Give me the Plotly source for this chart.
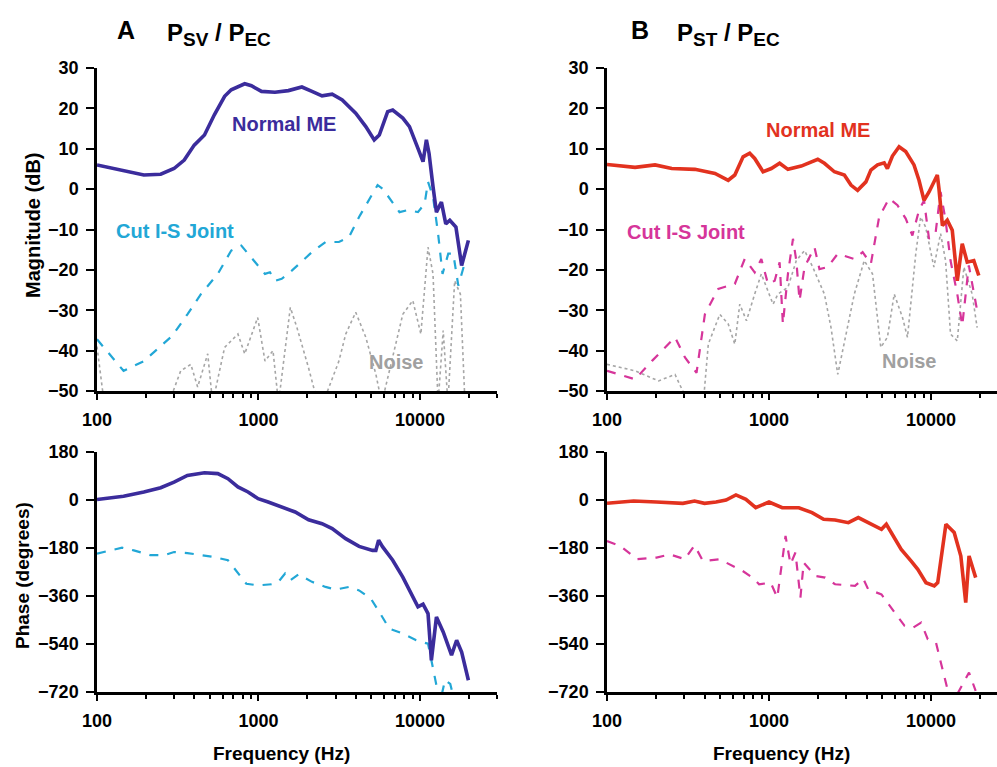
import plotly.graph_objects as go
import math

# ---------------- DATA ----------------
# Panel A magnitude (P_SV / P_EC), dB
A_mag_normal_f = [100,195,248,300,347,400,463,533,617,678,822,904,1044,1265,1532,1857,2144,2475,2860,3302,4000,4620,5210,5600,6310,6780,7830,8610,9720,10450,10960,11380,12050,12650,13580,14450,15310,16700,18120,19950]
A_mag_normal = [6.0,3.5,3.7,5.1,7.2,10.9,13.4,18.4,23.0,24.6,26.1,25.6,24.2,24.0,24.4,25.3,24.2,23.1,23.5,22.1,18.8,15.5,12.2,13.4,19.2,19.6,17.6,15.5,10.1,6.8,12.2,8.9,0.6,-5.7,-3.2,-8.6,-7.7,-9.4,-18.9,-12.7]

A_mag_cut_f = [100,146,195,293,363,440,560,678,783,904,1097,1178,1265,1393,1608,2144,2600,3148,3634,4197,4843,5466,5875,6622,7470,8414,9720,10690,11220,12050,12950,13800,14970,16080,17280,19010]
A_mag_cut = [-37.2,-45,-42.6,-36.3,-31,-26,-21,-15.2,-14,-16.9,-21,-20.6,-22.7,-22.2,-20.2,-15.6,-13.1,-13.1,-11.9,-6.9,-2.8,1,0.1,-2.8,-5.7,-5.2,-5.7,-3.6,1.8,-1.9,-11,-21,-16,-16,-23.9,-18.1]

A_mag_noise_f = [100,110,150,250,330,381,420,485,520,617,746,822,989,1097,1230,1330,1575,1730,2040,2400,3148,3470,4000,4620,5330,5800,7830,9030,10130,11220,12050,12950,13930,14900,16400,17800,19000]
A_mag_noise = [-39,-52,-58,-58,-45,-43.4,-49,-40.8,-53,-39.2,-35.9,-40.8,-31.8,-42.6,-40,-53,-29.3,-34.3,-44.2,-55,-42.6,-35.9,-30.5,-36.7,-45.8,-53,-31,-27.6,-35.9,-14.4,-21,-53,-35,-53,-22.7,-26,-53]

# Panel B magnitude (P_ST / P_EC), dB
B_mag_normal_f = [100,149,198,251,349,464,560,615,692,760,816,919,1033,1163,1309,1581,2000,2198,2533,2918,3206,3524,3963,4254,4677,5141,5380,5780,6354,6982,7853,8432,9055,9723,10940,11200,11760,12600,13530,14530,15590,16730,18370,19720]
B_mag_normal = [6.1,5.4,6.0,5.1,4.9,3.9,2.2,3.5,8.0,8.9,7.6,4.3,5.1,6.4,4.9,5.7,7.4,6.4,4.3,3.5,1.0,-0.3,1.8,4.7,6.0,6.5,5.1,8.2,10.5,9.3,6.0,2.2,-2.8,-0.7,3.5,0.1,-9.0,-7.7,-10.2,-22.7,-13.5,-18.1,-17.7,-21.4]

B_mag_cut_f = [100,149,189,263,303,357,402,486,615,708,816,897,986,1084,1163,1218,1309,1406,1474,1544,1657,1909,2048,2305,2657,3362,3784,4254,4786,5516,6210,6982,7678,8432,9055,9723,10690,11460,12300,13200,14530,15590,17120,19270]
B_mag_cut = [-45,-47.1,-42.6,-36.7,-41.7,-45.5,-31,-24.7,-23.5,-17.3,-20.6,-17.3,-23.5,-22.7,-18.1,-33.4,-21,-12.3,-17.7,-27.6,-19.3,-14.4,-19.8,-19.3,-16,-17.3,-15.6,-18.5,-6.9,-2.3,-4,-7.3,-11.5,-5.2,-2.8,-12.3,-10.6,-0.7,-7.7,-17.7,-26,-33.8,-18.9,-30.1]

B_mag_noise_f = [100,149,208,263,318,393,422,497,560,615,660,726,816,897,1059,1136,1309,1474,1657,1862,2198,2415,2657,2918,3362,3873,4355,4898,5380,5929,6668,7157,8054,8630,9265,10420,11460,12300,13200,14530,15960,17950,19270]
B_mag_noise = [-43.4,-45,-47.5,-45.9,-53,-53,-38.4,-31,-33.4,-38.4,-28.5,-32.6,-26,-21,-28.5,-26,-24.3,-17.7,-15.2,-19.3,-26,-34.3,-45.9,-37.6,-26,-17.7,-21,-39.2,-36.7,-26,-31.8,-36.7,-16,-6.9,-9.4,-19.3,-11,-17.7,-35.9,-37.6,-19.3,-26,-34.3]

# Panel A phase, degrees
A_ph_normal_f = [100,146,195,248,300,363,463,560,647,746,862,995,1148,1393,1687,2043,2475,2860,3467,4197,5082,5330,5545,5875,6780,7830,8830,9720,10450,11220,11770,12650,13930,15690,16870,18120,19950]
A_ph_normal = [2,14,30,46,67,92,102,99,80,49,30,5,-7.5,-26,-45,-74,-89,-107,-145,-174,-189,-189,-151,-176,-226,-289,-351,-401,-391,-426,-601,-439,-495,-582,-526,-570,-676]

A_ph_cut_f = [100,143,169,214,260,300,363,440,533,647,746,841,995,1205,1327,1461,1575,1770,2144,2600,2999,3634,4197,4966,5600,6457,7830,9480,11220,12050,12650,13300,14300,15400,16500]
A_ph_cut = [-201,-179,-189,-207,-207,-195,-199,-207,-214,-226,-276,-314,-320,-316,-307,-276,-301,-279,-307,-326,-336,-326,-339,-370,-420,-482,-501,-526,-539,-639,-701,-760,-675,-690,-760]

# Panel B phase, degrees
B_ph_normal_f = [100,146,202,294,347,400,471,543,625,720,828,1000,1207,1528,1843,2172,2558,3090,3557,4295,4946,5300,5823,6550,7547,8287,9313,10480,11000,12360,13900,15280,16380,17170,18870]
B_ph_normal = [-12,-4,-7.5,-12.5,-4,-12.5,-7.5,0,19,2.5,-29,-7.5,-29,-29,-47.5,-72.5,-75,-85,-66,-91,-110,-91,-135,-185,-229,-260,-310,-322,-310,-91,-122,-210,-385,-210,-291]

B_ph_cut_f = [100,121,153,202,244,302,347,391,494,597,687,791,869,1024,1125,1265,1358,1456,1563,1637,1932,2222,2558,3395,3818,4095,4946,5970,6871,7727,8690,9547,10740,11510,12650,13600,17170,18870]
B_ph_cut = [-154,-172.5,-222,-216,-204,-222,-170,-229,-222,-247,-266,-291,-316,-310,-366,-135,-241,-197,-366,-235,-285,-291,-316,-322,-295,-335,-354,-422,-472,-479,-460,-522,-535,-610,-710,-760,-647,-716]

x_major = [100, 1000, 10000]
x_major_text = ["100", "1000", "10000"]
x_minor = [200,300,400,500,600,700,800,900,2000,3000,4000,5000,6000,7000,8000,9000,20000,30000]
mag_ticks = [-50,-40,-30,-20,-10,0,10,20,30]
ph_ticks = [-720,-540,-360,-180,0,180]

# ---------------- STYLE ----------------
W, H = 997, 767
FONT = "Liberation Sans, Arial, Helvetica, sans-serif"
BLUE = "#3b2c9c"
CYAN = "#22a7d6"
RED = "#e2321f"
MAGENTA = "#d6359a"
GRAY = "#a6a6a6"

def fx(p):
    return p / W

def fy(p):
    return 1 - p / H

fig = go.Figure()

def add(x, y, color, width, dash, xa, ya):
    fig.add_trace(go.Scatter(x=x, y=y, mode="lines", xaxis=xa, yaxis=ya,
                             line=dict(color=color, width=width, dash=dash),
                             showlegend=False, hoverinfo="skip"))

# top A
add(A_mag_noise_f, A_mag_noise, GRAY, 1.6, "dot", "x", "y")
add(A_mag_cut_f, A_mag_cut, CYAN, 2.2, "dash", "x", "y")
add(A_mag_normal_f, A_mag_normal, BLUE, 3.6, "solid", "x", "y")
# top B
add(B_mag_noise_f, B_mag_noise, GRAY, 1.6, "dot", "x2", "y2")
add(B_mag_cut_f, B_mag_cut, MAGENTA, 2.2, "dash", "x2", "y2")
add(B_mag_normal_f, B_mag_normal, RED, 3.6, "solid", "x2", "y2")
# bottom A
add(A_ph_cut_f, A_ph_cut, CYAN, 2.2, "dash", "x3", "y3")
add(A_ph_normal_f, A_ph_normal, BLUE, 3.6, "solid", "x3", "y3")
# bottom B
add(B_ph_cut_f, B_ph_cut, MAGENTA, 2.2, "dash", "x4", "y4")
add(B_ph_normal_f, B_ph_normal, RED, 3.6, "solid", "x4", "y4")

tickfont = dict(family=FONT, size=18, color="black", weight="bold")

def xaxis(dom, rng, anchor):
    return dict(type="log", domain=dom, range=rng, anchor=anchor, automargin=False,
                showline=True, linecolor="black", linewidth=2.5,
                ticks="outside", ticklen=6, tickwidth=2, tickcolor="black",
                tickmode="array", tickvals=x_major, ticktext=x_major_text,
                minor=dict(tickmode="array", tickvals=x_minor, ticks="outside",
                           ticklen=4, tickwidth=2, tickcolor="black", showgrid=False),
                showgrid=False, zeroline=False, tickfont=tickfont,
                ticklabelstandoff=5)

def yaxis(dom, rng, vals, anchor):
    return dict(domain=dom, range=rng, anchor=anchor, automargin=False,
                showline=True, linecolor="black", linewidth=2.5,
                ticks="outside", ticklen=8, tickwidth=2, tickcolor="black",
                tickmode="array", tickvals=vals,
                showgrid=False, zeroline=False, tickfont=tickfont,
                ticklabelstandoff=4)

xa_dom = [fx(97), fx(497)]
xb_dom = [fx(607), 1.0]
xa_rng = [2, math.log10(30000)]
xb_rng = [2, 2 + 390 / 162]
top_dom = [fy(391), fy(68)]
bot_dom = [fy(692), fy(452)]

fig.update_layout(
    template="none",
    width=W, height=H,
    margin=dict(l=0, r=0, t=0, b=0, pad=0, autoexpand=False),
    paper_bgcolor="white", plot_bgcolor="white",
    xaxis=xaxis(xa_dom, xa_rng, "y"),
    yaxis=yaxis(top_dom, [-50, 30], mag_ticks, "x"),
    xaxis2=xaxis(xb_dom, xb_rng, "y2"),
    yaxis2=yaxis(top_dom, [-50, 30], mag_ticks, "x2"),
    xaxis3=xaxis(xa_dom, xa_rng, "y3"),
    yaxis3=yaxis(bot_dom, [-720, 180], ph_ticks, "x3"),
    xaxis4=xaxis(xb_dom, xb_rng, "y4"),
    yaxis4=yaxis(bot_dom, [-720, 180], ph_ticks, "x4"),
)

def ann(text, xp, yp, size, color="black", xanchor="center", yanchor="middle", angle=0):
    fig.add_annotation(text=text, x=fx(xp), y=fy(yp), xref="paper", yref="paper",
                       showarrow=False, xanchor=xanchor, yanchor=yanchor, textangle=angle,
                       font=dict(family=FONT, size=size, color=color, weight="bold"))

def sub(s):
    return "<sub><span style='font-size:19px'>" + s + "</span></sub>"

# panel titles
ann("A", 115, 30, 25, xanchor="left")
ann("P" + sub("SV") + " / P" + sub("EC"), 165, 35, 24, xanchor="left")
ann("B", 629, 30, 25, xanchor="left")
ann("P" + sub("ST") + " / P" + sub("EC"), 675, 35, 24, xanchor="left")

# axis titles
ann("Magnitude (dB)", 33, 225, 20, angle=-90)
ann("Phase (degrees)", 22, 576, 19, angle=-90)
ann("Frequency (Hz)", 281, 753, 19)
ann("Frequency (Hz)", 781, 753, 19)

# in-plot labels
ann("Normal ME", 284, 124, 20, BLUE)
ann("Cut I-S Joint", 175, 231, 20, CYAN)
ann("Noise", 396, 362, 20, "#a0a0a0")
ann("Normal ME", 818, 130, 20, RED)
ann("Cut I-S Joint", 686, 232, 20, MAGENTA)
ann("Noise", 909, 361, 20, "#a0a0a0")

fig.write_html("out.html")
